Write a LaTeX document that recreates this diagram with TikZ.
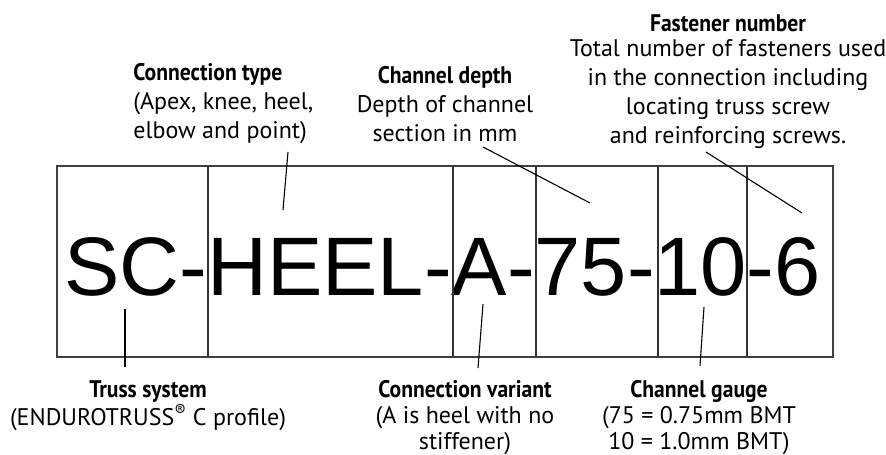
\documentclass[tikz,border=0pt]{standalone}
\usepackage{fontspec}
\usepackage{tikz}

\newfontfamily\codefont{Liberation Sans}
\newfontfamily\lblfont{PT Sans}
\newfontfamily\headfont[FakeStretch=0.9]{PT Sans Bold}

\begin{document}
\begin{tikzpicture}[x=1pt,y=-1pt,thick]

	\tikzset{
		cell/.style={
				draw=black!80, line width=1.4pt
			},
		frame/.style={
				draw=black!75, line width=2pt
			},
		leader/.style={
				draw=black, line width=1.1pt
			},
		lbl/.style={
				inner sep=0pt, font=\lblfont\fontsize{24}{29}\selectfont
			},
		lowlbl/.style={
				lbl, anchor=north, align=center, font=\lblfont\fontsize{24}{26}\selectfont
			},
	}
	\useasboundingbox (0,0) rectangle (886,455);

	% the code in its box
	\node[anchor=base west, inner sep=0pt, font=\codefont\fontsize{83}{90}\selectfont] (code) at (64,295) {SC-HEEL-A-75-10-6};
	\draw[frame] (57,166) rectangle (833,357);
	\foreach \xx in {208,453,536,658,747}
		\draw[cell] (\xx,166) -- (\xx,357);

	% ends inside the box
	\coordinate (typetip) at (283,210);
	\coordinate (depthtip) at (590,203);
	\coordinate (fasttip) at (802,213);
	\coordinate (trusstip) at (125,309);
	\coordinate (varianttip) at (483,304);
	\coordinate (gaugetip) at (704,307);

	% labels above
	\node[lbl, anchor=north west, align=left] (ctype) at (133,63)
		{{\headfont Connection type}\\(Apex, knee, heel,\\elbow and point)};
	\node[lbl, anchor=north, align=center] (cdepth) at (445,66)
		{{\headfont Channel depth}\\Depth of channel\\section in mm};
	\node[lbl, anchor=north, align=center] (fast) at (728,14)
		{{\headfont Fastener number}\\[-4pt]Total number of fasteners used\\in the connection including\\locating truss screw\\and reinforcing screws.};

	% labels below
	\node[lowlbl] (truss) at (148,380)
		{{\headfont Truss system}\\[2pt](ENDUROTRUSS\textsuperscript{\textregistered} C profile)};
	\node[lowlbl] (variant) at (465,380)
		{{\headfont Connection variant}\\(A is heel with no\\stiffener)};
	\node[lowlbl] (gauge) at (699,380)
		{{\headfont Channel gauge}\\(75 = 0.75mm BMT\\10 = 1.0mm BMT)};

	\draw[leader] ([xshift=155pt,yshift=-89pt]ctype.north west) -- (typetip);
	\draw[leader] ([xshift=38pt,yshift=-81pt]cdepth.north) -- (depthtip);
	\draw[leader] ([xshift=-22pt,yshift=-138pt]fast.north) -- (fasttip);
	\draw[leader] ([xshift=-23pt,yshift=13pt]truss.north) -- (trusstip);
	\draw[leader] ([xshift=13pt,yshift=12pt]variant.north) -- (varianttip);
	\draw[leader] ([xshift=1pt,yshift=14pt]gauge.north) -- (gaugetip);

\end{tikzpicture}
\end{document}
